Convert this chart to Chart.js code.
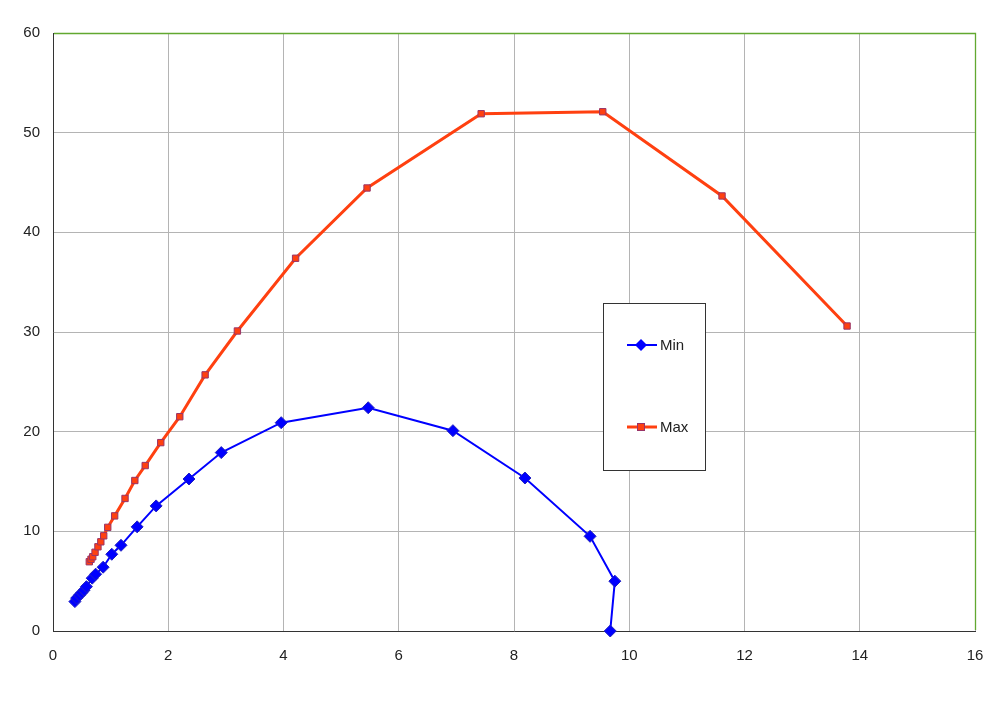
<!DOCTYPE html>
<html>
<head>
<meta charset="utf-8">
<script src="https://cdn.jsdelivr.net/npm/chart.js@4/dist/chart.umd.min.js"></script>
<style>
  html, body { margin: 0; padding: 0; background: #fff; }
  #wrap { width: 1001px; height: 713px; }
</style>
</head>
<body>
<div id="wrap"><canvas id="chart" width="1001" height="713"></canvas></div>
<script>
const minX = [0.38, 0.41, 0.46, 0.50, 0.54, 0.58, 0.68, 0.74, 0.87, 1.02, 1.18, 1.46, 1.79, 2.36, 2.92, 3.96, 5.47, 6.94, 8.19, 9.32, 9.75, 9.67];
const minY = [2.95, 3.3, 3.6, 3.85, 4.1, 4.45, 5.3, 5.7, 6.4, 7.7, 8.6, 10.45, 12.55, 15.25, 17.9, 20.9, 22.4, 20.1, 15.35, 9.5, 5.0, 0];

const maxX = [0.63, 0.66, 0.69, 0.73, 0.78, 0.83, 0.88, 0.95, 1.07, 1.25, 1.42, 1.60, 1.87, 2.20, 2.64, 3.20, 4.21, 5.45, 7.43, 9.54, 11.61, 13.78];
const maxY = [6.95, 7.2, 7.45, 7.9, 8.45, 8.95, 9.55, 10.4, 11.55, 13.3, 15.1, 16.6, 18.9, 21.5, 25.7, 30.1, 37.4, 44.45, 51.9, 52.1, 43.65, 30.6];

const seriesNames = ['Min', 'Max'];

function toPoints(xs, ys) {
  return xs.map((x, i) => ({ x: x, y: ys[i] }));
}

// green top/right frame + boxed legend inside plot area
const framePlugin = {
  id: 'frame',
  afterDraw(chart) {
    const ctx = chart.ctx;
    const a = chart.chartArea;
    ctx.save();
    ctx.strokeStyle = '#62a830';
    ctx.lineWidth = 1.3;
    ctx.beginPath();
    ctx.moveTo(a.left + 1, Math.floor(a.top) + 0.5);
    ctx.lineTo(Math.floor(a.right) + 0.5, Math.floor(a.top) + 0.5);
    ctx.lineTo(Math.floor(a.right) + 0.5, a.bottom - 1);
    ctx.stroke();

    // legend box
    const bx = 603.5, by = 303.5, bw = 102, bh = 167;
    ctx.fillStyle = '#fff';
    ctx.fillRect(bx, by, bw, bh);
    ctx.strokeStyle = '#333';
    ctx.lineWidth = 1;
    ctx.strokeRect(bx, by, bw, bh);

    const items = [
      { y: 345, color: '#0000ff', width: 2, draw: (x, y) => {
        ctx.fillStyle = '#0000ff';
        ctx.beginPath();
        ctx.moveTo(x, y - 6); ctx.lineTo(x + 6, y); ctx.lineTo(x, y + 6); ctx.lineTo(x - 6, y);
        ctx.closePath(); ctx.fill();
      } },
      { y: 427, color: '#ff4010', width: 3, draw: (x, y) => {
        ctx.fillStyle = '#ff4010';
        ctx.fillRect(x - 4, y - 4, 8, 8);
        ctx.strokeStyle = '#993366';
        ctx.lineWidth = 1;
        ctx.strokeRect(x - 3.5, y - 3.5, 7, 7);
      } }
    ];
    items.forEach((it, i) => {
      ctx.strokeStyle = it.color;
      ctx.lineWidth = it.width;
      ctx.beginPath();
      ctx.moveTo(627, it.y);
      ctx.lineTo(657, it.y);
      ctx.stroke();
      it.draw(641, it.y);
      ctx.fillStyle = '#222';
      ctx.font = '15px "Liberation Sans", Arial, sans-serif';
      ctx.textBaseline = 'middle';
      ctx.textAlign = 'left';
      ctx.fillText(seriesNames[i], 660, it.y + 1);
    });
    ctx.restore();
  }
};

const ctx = document.getElementById('chart').getContext('2d');
new Chart(ctx, {
  type: 'scatter',
  data: {
    datasets: [{
      label: seriesNames[0],
      data: toPoints(minX, minY),
      showLine: true,
      clip: false,
      borderColor: '#0000ff',
      borderWidth: 2,
      pointStyle: 'rectRot',
      pointRadius: 6,
      pointBackgroundColor: '#0000ff',
      pointBorderColor: '#2020c0',
      pointBorderWidth: 1,
      tension: 0
    }, {
      label: seriesNames[1],
      data: toPoints(maxX, maxY),
      showLine: true,
      clip: false,
      borderColor: '#ff4010',
      borderWidth: 3,
      pointStyle: 'rect',
      pointRadius: 4.5,
      pointBackgroundColor: '#ff4010',
      pointBorderColor: '#993366',
      pointBorderWidth: 1,
      tension: 0
    }]
  },
  options: {
    responsive: false,
    animation: false,
    layout: { padding: { top: 33, right: 26, left: 0, bottom: 0 } },
    plugins: {
      legend: { display: false },
      tooltip: { enabled: false }
    },
    scales: {
      x: {
        type: 'linear',
        min: 0,
        max: 16,
        ticks: { stepSize: 2, color: '#222', padding: 16, font: { family: '"Liberation Sans", Arial, sans-serif', size: 15 } },
        grid: { color: '#b4b4b4', drawTicks: false },
        border: { color: '#333', width: 1 },
        afterFit: s => { s.height = 82; }
      },
      y: {
        min: 0,
        max: 60,
        ticks: { stepSize: 10, color: '#222', padding: 13, font: { family: '"Liberation Sans", Arial, sans-serif', size: 15 } },
        grid: { color: '#b4b4b4', drawTicks: false },
        border: { color: '#333', width: 1 },
        afterFit: s => { s.width = 53; }
      }
    }
  },
  plugins: [framePlugin]
});
</script>
</body>
</html>
